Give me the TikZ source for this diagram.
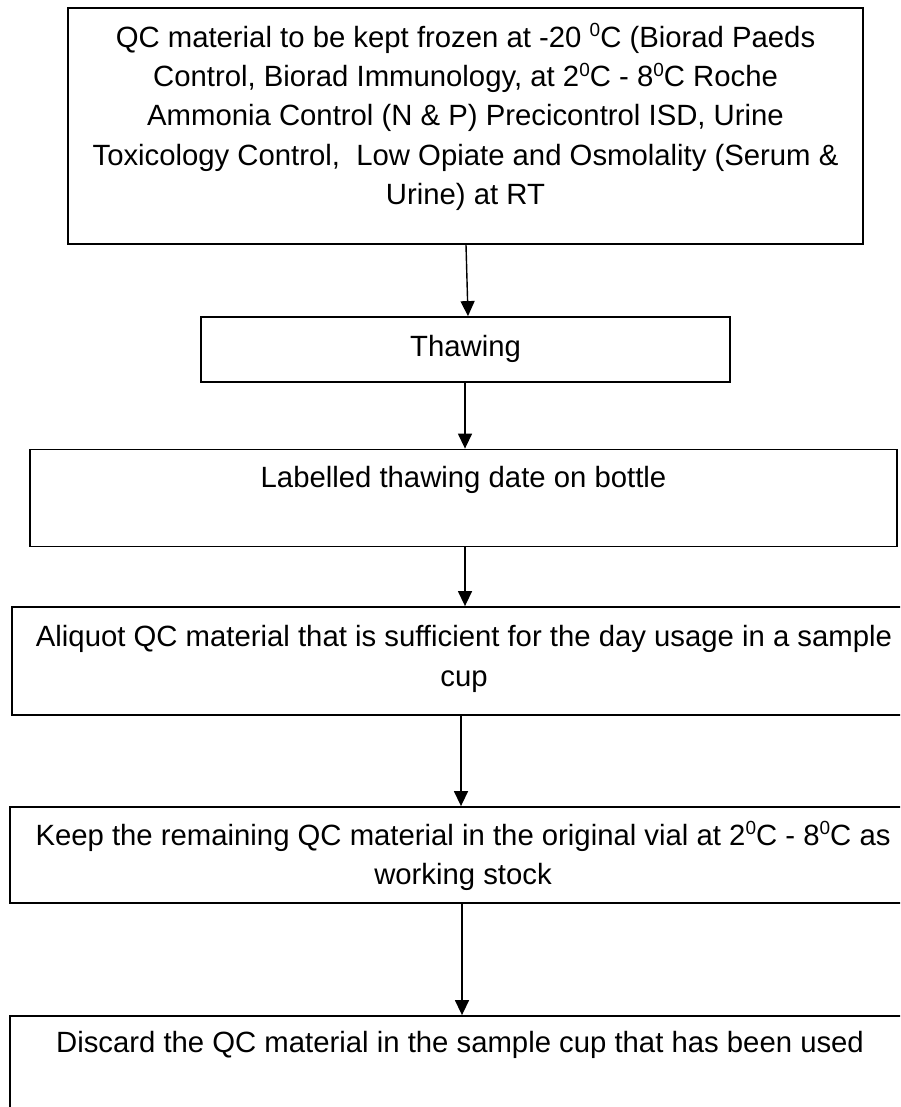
\documentclass[tikz,border=0pt]{standalone}
\usepackage{fontspec}
\setmainfont{Liberation Sans}
\usetikzlibrary{arrows.meta}
% small raised zero used as the degree sign
\newcommand{\dg}{\raisebox{0.36em}{\fontsize{19pt}{19pt}\selectfont 0}}
\tikzset{
  stepbox/.style={draw=black, line width=1.8pt, rectangle, inner sep=0pt},
  steptext/.style={align=center, inner sep=0pt, font=\fontsize{29.3pt}{39.3pt}\selectfont},
  flow/.style={draw=black, line width=1.4pt, -{Triangle[length=15pt,width=14pt]}}
}
\begin{document}
\begin{tikzpicture}[x=1pt,y=-1pt]
\clip (0,0) rectangle (900,1107);
\fill[white] (0,0) rectangle (900,1107);

% boxes
\node[stepbox, minimum width=795pt, minimum height=236pt] (b1) at (465.5,126) {};
\node[stepbox, minimum width=529pt, minimum height=65pt]  (b2) at (465.5,349.5) {};
\node[stepbox, minimum width=867pt, minimum height=97pt]  (b3) at (463.5,498) {};
\node[stepbox, minimum width=904pt, minimum height=108pt] (b4) at (464,661) {};
\node[stepbox, minimum width=906pt, minimum height=96pt]  (b5) at (463,855) {};
\node[stepbox, minimum width=906pt, minimum height=200pt] (b6) at (463,1116) {};

% texts
\node[steptext] (t1) at (465.5,117) {QC material to be kept frozen at -20 \dg C (Biorad Paeds\\
Control, Biorad Immunology, at 2\dg C - 8\dg C Roche\\
Ammonia Control (N \& P) Precicontrol ISD, Urine\\
Toxicology Control,\ \ Low Opiate and Osmolality (Serum \&\\
Urine) at RT};
\node[steptext] (t2) at (465.5,349) {Thawing};
\node[steptext] (t3) at (463.5,480) {Labelled thawing date on bottle};
\node[steptext] (t4) at (464,659) {Aliquot QC material that is sufficient for the day usage in a sample\\cup};
\node[steptext] (t5) at (463,856) {Keep the remaining QC material in the original vial at 2\dg C - 8\dg C as\\working stock};
\node[steptext] (t6) at (460,1045) {Discard the QC material in the sample cup that has been used};

% connectors
\draw[flow] ([xshift=0.5pt]b1.south) -- ([xshift=2.5pt]b2.north);
\draw[flow] ([xshift=-0.5pt]b2.south) -- ([xshift=1.5pt]b3.north);
\draw[flow] ([xshift=1.5pt]b3.south) -- ([xshift=1pt]b4.north);
\draw[flow] ([xshift=-3pt]b4.south) -- ([xshift=-2pt]b5.north);
\draw[flow] ([xshift=-1pt]b5.south) -- ([xshift=-1pt]b6.north);
\end{tikzpicture}
\end{document}
